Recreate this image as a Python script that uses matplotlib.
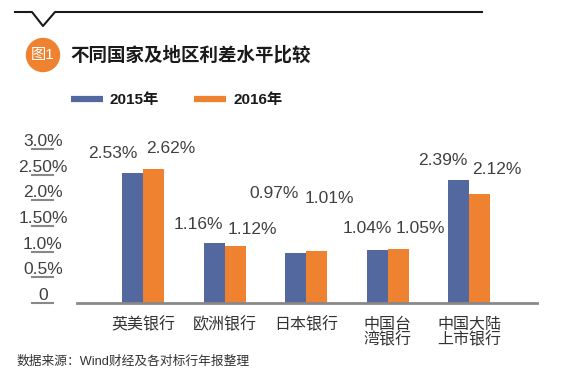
import matplotlib
matplotlib.use("Agg")
import matplotlib.pyplot as plt
from matplotlib.lines import Line2D
from matplotlib.patches import Circle
import numpy as np

plt.rcParams['font.family'] = ['Liberation Sans', 'Noto Sans CJK SC']

# datos
bancos = ['英美银行', '欧洲银行', '日本银行', '中国台\n湾银行', '中国大陆\n上市银行']
v2015 = [2.53, 1.16, 0.97, 1.04, 2.39]
v2016 = [2.62, 1.12, 1.01, 1.05, 2.12]
series = ['2015年', '2016年']
ticks_y = [0, 0.5, 1.0, 1.5, 2.0, 2.5, 3.0]
ticks_txt = ['0', '0.5%', '1.0%', '1.50%', '2.0%', '2.50%', '3.0%']

# desplazamiento de las etiquetas de valores (pixeles)
dx_azul = [-19.5, -16, -21.5, -10, -15.5]
dy_azul = [20, 18.5, 60, 21.5, 20]
dx_naranja = [17.5, 17, 12.5, 22, 16.5]
dy_naranja = [20.5, 16.5, 53, 21, 25]

azul = '#52689f'
naranja = '#ef8230'
gris = '#404040'

W, H = 582, 375
fig = plt.figure(figsize=(W / 100, H / 100), dpi=100)

def px(x, y):
    return x / W, 1 - y / H

# ejes: cero en y=303, 3.0 en y=149, x de 77 a 537
x0, y0 = px(77, 303)
x1, y1 = px(537, 149)
ax = fig.add_axes([x0, y0, x1 - x0, y1 - y0])

x = np.arange(len(bancos))
ancho = 0.258
ax.bar(x - ancho / 2, v2015, ancho, color=azul, zorder=2)
ax.bar(x + ancho / 2, v2016, ancho, color=naranja, zorder=2)

ax.set_xlim(-0.81, 4.83)
ax.set_ylim(0, 3.0)
for s in ['top', 'right', 'left']:
    ax.spines[s].set_visible(False)
ax.spines['bottom'].set_color('#888888')
ax.spines['bottom'].set_linewidth(2)
ax.set_yticks([])
ax.set_xticks(x)
ax.set_xticklabels(bancos, fontsize=11.5, color='#333333', linespacing=1.0,
                   va='top')
ax.tick_params(axis='x', length=0, pad=10)

# etiquetas del eje y con subrayado
trans = ax.get_yaxis_transform()
for t, s in zip(ticks_y, ticks_txt):
    ax.plot([-0.098, -0.052], [t, t], color='#888888', lw=1.5,
            transform=trans, clip_on=False)
    ax.text(-0.074, t + 0.058, s, transform=trans, ha='center', va='baseline',
            fontsize=12.5, color=gris, clip_on=False)

# etiquetas de valores
for i in range(len(bancos)):
    ax.annotate(f'{v2015[i]:.2f}%', (x[i] - ancho / 2, v2015[i]),
                xytext=(dx_azul[i] * 0.72, dy_azul[i] * 0.72),
                textcoords='offset points',
                ha='center', va='center', fontsize=12.5, color=gris)
    ax.annotate(f'{v2016[i]:.2f}%', (x[i] + ancho / 2, v2016[i]),
                xytext=(dx_naranja[i] * 0.72, dy_naranja[i] * 0.72),
                textcoords='offset points',
                ha='center', va='center', fontsize=12.5, color=gris)

# linea superior con muesca
xs = [15, 32, 43, 55, 482]
ys = [12, 12, 26, 12, 12]
fig.add_artist(Line2D([a / W for a in xs], [1 - b / H for b in ys],
                      color='#1a1a1a', lw=1.5, transform=fig.transFigure))

# titulo
cx, cy = px(43, 55)
fig.add_artist(Circle((43, H - 55), 16.5, color=naranja,
                      transform=None))
fig.text(cx, cy, '图1', ha='center', va='center', color='white', fontsize=11)
tx, ty = px(70, 55)
fig.text(tx, ty, '不同国家及地区利差水平比较', ha='left', va='center',
         fontsize=13.3, fontweight='bold', color='#1a1a1a')

# leyenda
for (a, b), col, nom in zip([(71, 103), (194, 226)], [azul, naranja], series):
    fig.add_artist(Line2D([a / W, b / W], [1 - 99 / H] * 2, color=col, lw=4.5,
                          transform=fig.transFigure, solid_capstyle='butt'))
    lx, ly = px(b + 7, 100)
    fig.text(lx, ly, nom, ha='left', va='center', fontsize=11,
             fontweight='bold', color='#1a1a1a')

# fuente
sx, sy = px(17, 362)
fig.text(sx, sy, '数据来源：Wind财经及各对标行年报整理', ha='left', va='center',
         fontsize=9.2, color='#333333')

fig.savefig('out.png', dpi=100)
